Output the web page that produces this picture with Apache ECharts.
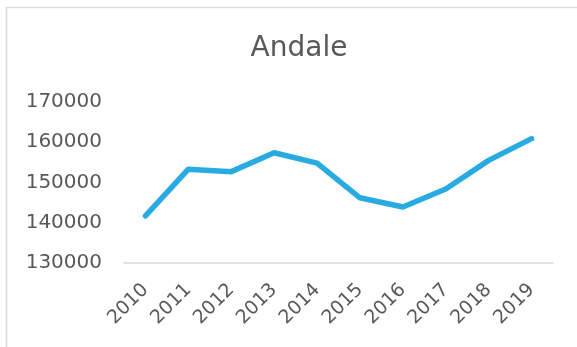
<!DOCTYPE html>
<html>
<head>
<meta charset="utf-8">
<script src="https://cdn.jsdelivr.net/npm/echarts@6/dist/echarts.min.js"></script>
<style>
  html, body { margin: 0; padding: 0; background: #fff; }
  #chart { width: 577px; height: 347px; }
</style>
</head>
<body>
<div id="chart"></div>
<script>
// Yearly totals for Andale
const years = ['2010', '2011', '2012', '2013', '2014', '2015', '2016', '2017', '2018', '2019'];
const totals = [141700, 153300, 152700, 157400, 154800, 146200, 143900, 148400, 155500, 160900];
const yTicks = { min: 130000, max: 170000, step: 10000 };

const textColor = '#595959';
const fontFamily = 'DejaVu Sans';

const chart = echarts.init(document.getElementById('chart'), null, { renderer: 'canvas' });
chart.setOption({
  animation: false,
  backgroundColor: '#fff',
  graphic: [{
    type: 'rect',
    shape: { x: 6.5, y: 7.5, width: 620, height: 400 },
    style: { fill: 'none', stroke: '#d9d9d9', lineWidth: 1.5 },
    silent: true
  }],
  title: {
    text: 'Andale',
    left: 294,
    textAlign: 'center',
    top: 30,
    textStyle: { color: textColor, fontSize: 28, fontWeight: 'normal', fontFamily: fontFamily }
  },
  grid: { left: 124, right: 24, top: 102, bottom: 84, containLabel: false },
  xAxis: {
    type: 'category',
    data: years,
    boundaryGap: true,
    axisLine: { show: true, lineStyle: { color: '#d9d9d9', width: 1.5 } },
    axisTick: { show: false },
    axisLabel: {
      color: textColor, fontSize: 19, fontFamily: fontFamily,
      rotate: 45, margin: 24, interval: 0
    }
  },
  yAxis: {
    type: 'value',
    min: yTicks.min,
    max: yTicks.max,
    interval: yTicks.step,
    axisLine: { show: false },
    axisTick: { show: false },
    splitLine: { show: false },
    axisLabel: {
      color: textColor, fontSize: 20, fontFamily: fontFamily, margin: 22,
      formatter: function (v) { return String(v); }
    }
  },
  series: [{
    type: 'line',
    data: totals,
    symbol: 'none',
    lineStyle: { color: '#29abe2', width: 5.5, cap: 'round', join: 'round' },
    itemStyle: { color: '#29abe2' }
  }]
});
</script>
</body>
</html>
